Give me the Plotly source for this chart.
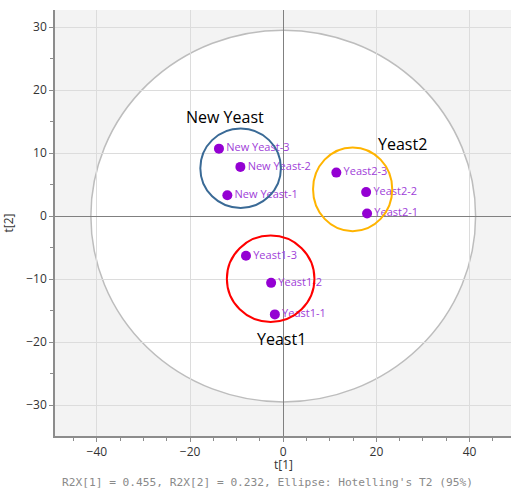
import plotly.graph_objects as go

# ---- data ----
sample_names = ["New Yeast-1", "New Yeast-2", "New Yeast-3",
                "Yeast1-1", "Yeast1-2", "Yeast1-3",
                "Yeast2-1", "Yeast2-2", "Yeast2-3"]
t1_scores = [-12.0, -9.2, -13.8, -1.8, -2.6, -8.0, 18.0, 17.8, 11.4]
t2_scores = [3.3, 7.8, 10.7, -15.6, -10.6, -6.3, 0.4, 3.8, 6.9]

group_names = ["New Yeast", "Yeast2", "Yeast1"]
group_label_x = [-12.4, 25.7, -0.3]
group_label_y = [15.7, 11.5, -19.5]
# group circles: x0, x1, y0, y1
group_x0 = [-17.8, 6.4, -12.1]
group_x1 = [-0.5, 23.4, 6.7]
group_y0 = [1.3, -2.4, -16.8]
group_y1 = [13.9, 10.9, -3.1]
group_colors = ["#3a6a96", "#FFB400", "#FF0000"]

hotelling_a = 41.3
hotelling_b = 29.5

x_range = [-49.0, 48.9]
y_range = [-34.9, 32.7]
x_title = "t[1]"
y_title = "t[2]"
footer = "R2X[1] = 0.455, R2X[2] = 0.232, Ellipse: Hotelling's T2 (95%)"

fig = go.Figure()

fig.add_trace(go.Scatter(
    x=t1_scores, y=t2_scores, mode="markers+text",
    text=sample_names, textposition="middle right",
    marker=dict(color="#9400D3", size=10),
    textfont=dict(color="#a040d8", size=11, family="Open Sans"),
    showlegend=False, cliponaxis=False,
))

shapes = [dict(type="circle", xref="x", yref="y",
               x0=-hotelling_a, x1=hotelling_a, y0=-hotelling_b, y1=hotelling_b,
               fillcolor="white", line=dict(color="#bdbdbd", width=1.5),
               layer="below")]
for x0, x1, y0, y1, c in zip(group_x0, group_x1, group_y0, group_y1, group_colors):
    shapes.append(dict(type="circle", xref="x", yref="y", x0=x0, x1=x1, y0=y0, y1=y1,
                       line=dict(color=c, width=2), layer="above"))

annotations = []
for name, gx, gy in zip(group_names, group_label_x, group_label_y):
    annotations.append(dict(x=gx, y=gy, xref="x", yref="y", text=name, showarrow=False,
                            font=dict(size=16, color="black", family="Open Sans")))
annotations.append(dict(x=0.501, y=-0.066, xref="paper", yref="paper", text=x_title,
                        showarrow=False, yanchor="middle",
                        font=dict(size=12, color="#333333", family="Open Sans")))
annotations.append(dict(x=0.467, y=-0.109, xref="paper", yref="paper", text=footer,
                        showarrow=False, yanchor="middle",
                        font=dict(size=11.2, color="#8a8a8a", family="DejaVu Sans Mono")))

axis_common = dict(
    showgrid=True, gridcolor="#dcdcdc", gridwidth=1,
    zeroline=True, zerolinecolor="#808080", zerolinewidth=1,
    showline=True, linecolor="#8c8c8c", linewidth=1.5,
    ticks="outside", ticklen=4, tickcolor="#8c8c8c",
    tickfont=dict(size=12, color="#333333", family="Open Sans"),
    automargin=False,
)

fig.update_layout(
    width=511, height=488,
    margin=dict(l=55, r=0, t=10, b=52),
    paper_bgcolor="white", plot_bgcolor="#f3f3f3",
    shapes=shapes, annotations=annotations,
    xaxis=dict(range=x_range, dtick=20, tick0=0,
               minor=dict(dtick=5, tick0=0, ticks="outside", ticklen=3, tickcolor="#8c8c8c", showgrid=False),
               **axis_common),
    yaxis=dict(range=y_range, dtick=10, tick0=0,
               minor=dict(dtick=5, tick0=0, ticks="outside", ticklen=3, tickcolor="#8c8c8c", showgrid=False),
               title=dict(text=y_title, standoff=10, font=dict(size=12, color="#333333", family="Open Sans")),
               **axis_common),
    font=dict(family="Open Sans"),
)

fig.write_html(
    "out.html",
    config={"displayModeBar": False},
    post_script=("document.documentElement.style.overflow='hidden';"
                 "document.body.style.overflow='hidden';"
                 "document.body.style.margin='0';"
                 "var d=document.getElementById('{plot_id}');"
                 "d.style.position='fixed';d.style.left='0px';d.style.top='0px';"),
)
